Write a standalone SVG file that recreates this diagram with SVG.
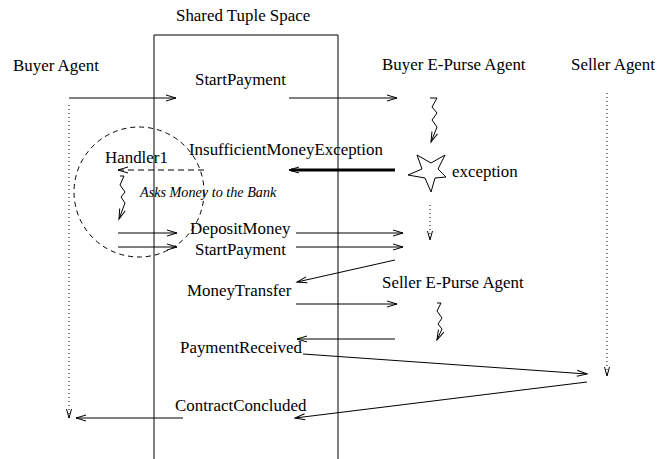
<svg xmlns="http://www.w3.org/2000/svg" width="657" height="459" viewBox="0 0 657 459">
<style>
text{font-family:"Liberation Serif","Times New Roman",serif;font-size:16.9px;fill:#000}
.it{font-style:italic;font-size:14.2px}
.ln{fill:none;stroke:#000;stroke-width:1}
.dot{stroke-dasharray:1 3}
.dash{stroke-dasharray:6 4}
.thick{stroke-width:3}
</style>
<defs>
<marker id="ah" markerUnits="userSpaceOnUse" markerWidth="14" markerHeight="10" refX="0" refY="0" viewBox="-12 -5 14 10" orient="auto" overflow="visible">
<path d="M-10,-3 L0,0 L-10,3" fill="none" stroke="#000" stroke-width="1"/>
</marker>
<marker id="ahs" markerUnits="userSpaceOnUse" markerWidth="14" markerHeight="10" refX="0" refY="0" viewBox="-12 -5 14 10" orient="auto" overflow="visible">
<path d="M-9,-2.5 L0,0 L-9,2.5" fill="none" stroke="#000" stroke-width="1"/>
</marker>
</defs>
<rect width="657" height="459" fill="#fff"/>

<g id="tuple-space">
<path class="ln" d="M154,460 V35 H338 V460"/>
<text x="176" y="21">Shared Tuple Space</text>
</g>

<g id="buyer-agent">
<text x="13" y="71">Buyer Agent</text>
</g>

<g id="buyer-epurse-agent">
<text x="382" y="70">Buyer E-Purse Agent</text>
</g>

<g id="seller-agent">
<text x="571" y="70">Seller Agent</text>
</g>

<g id="seller-epurse-agent">
<text x="382" y="288">Seller E-Purse Agent</text>
</g>

<g id="handler1">
<circle class="ln" cx="139" cy="192" r="65" style="stroke-dasharray:5 4"/>
<text x="105" y="163">Handler1</text>
<text class="it" x="140" y="197">Asks Money to the Bank</text>
</g>

<g id="exception">
<polygon class="ln" points="431,192 425,178 408,175 422,169 417,155 431,163 445,155 438,169 446,177 435,178"/>
<text x="452" y="177">exception</text>
</g>

<g id="tuple-labels">
<text x="195" y="85">StartPayment</text>
<text x="189" y="155">InsufficientMoneyException</text>
<text x="190" y="234">DepositMoney</text>
<text x="195" y="255">StartPayment</text>
<text x="187" y="296">MoneyTransfer</text>
<text x="180" y="353">PaymentReceived</text>
<text x="175" y="411">ContractConcluded</text>
</g>

<g id="connectors">
<line class="ln" x1="69" y1="98" x2="176" y2="98" marker-end="url(#ah)"/>
<line class="ln" x1="289" y1="98" x2="397" y2="98" marker-end="url(#ah)"/>
<line class="ln dot" x1="69" y1="105" x2="69" y2="418" marker-end="url(#ahs)"/>
<polyline class="ln" points="430,98 437,98 432,107 437,113 432,120 437,127 431,142" marker-end="url(#ah)"/>
<line class="ln thick" x1="395" y1="170" x2="291" y2="170"/>
<line class="ln" x1="292" y1="170" x2="289" y2="170" marker-end="url(#ah)"/>
<line class="ln dash" x1="204" y1="170" x2="118" y2="170" marker-end="url(#ah)"/>
<polyline class="ln" points="120,176 124,176 120,185 125,192 121,197 125,203 119,219" marker-end="url(#ah)"/>
<line class="ln" x1="118" y1="233" x2="177" y2="233" marker-end="url(#ah)"/>
<line class="ln" x1="118" y1="247" x2="177" y2="247" marker-end="url(#ah)"/>
<line class="ln" x1="296" y1="233" x2="403" y2="233" marker-end="url(#ah)"/>
<line class="ln" x1="296" y1="247" x2="403" y2="247" marker-end="url(#ah)"/>
<line class="ln dot" x1="430" y1="205" x2="430" y2="240" marker-end="url(#ahs)"/>
<line class="ln" x1="395" y1="260" x2="297" y2="282" marker-end="url(#ah)"/>
<line class="ln" x1="296" y1="304" x2="397" y2="304" marker-end="url(#ah)"/>
<polyline class="ln" points="437,303 441,303 437,311 442,318 438,324 442,329 437,340" marker-end="url(#ah)"/>
<line class="ln" x1="395" y1="339" x2="297" y2="339" marker-end="url(#ah)"/>
<line class="ln" x1="303" y1="354" x2="587" y2="374" marker-end="url(#ah)"/>
<line class="ln" x1="587" y1="382" x2="295" y2="418" marker-end="url(#ah)"/>
<line class="ln" x1="183" y1="418" x2="76" y2="418" marker-end="url(#ah)"/>
<line class="ln dot" x1="607" y1="93" x2="607" y2="376" marker-end="url(#ahs)"/>
</g>
</svg>
